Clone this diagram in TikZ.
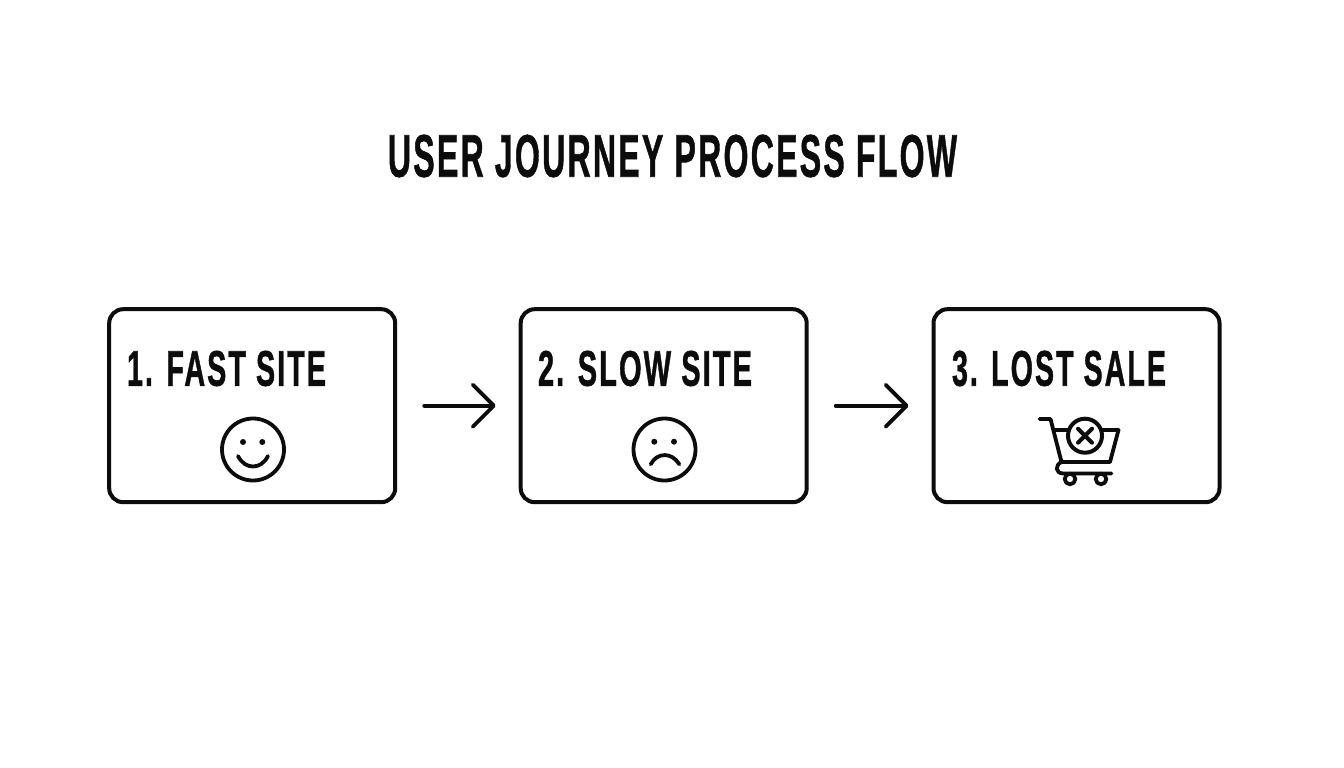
\documentclass[tikz,border=0pt]{standalone}
\usepackage{fontspec}
\usepackage{graphicx}
\setmainfont{Liberation Sans}[BoldFeatures={LetterSpace=7,FakeBold=1.2}]
\usetikzlibrary{arrows.meta}
\definecolor{ink}{HTML}{0C0C0C}
\newcommand{\fittext}[3]{\resizebox{#1pt}{#2pt}{\bfseries #3}}
\tikzset{
  stage/.style={draw=ink,line width=4pt,rounded corners=14pt,minimum width=286pt,minimum height=193pt,inner sep=0pt,fill=white},
  label/.style={inner sep=0pt,text=ink},
  flow/.style={draw=ink,line width=3.8pt,line cap=round,-{Straight Barb[length=21pt,width=42pt,line width=3.8pt,round]}},
  icon/.style={draw=ink,line width=3.8pt,line cap=round,line join=round},
  cart/.style={draw=ink,line width=3.8pt,line cap=round,line join=round}
}
\begin{document}
\begin{tikzpicture}[x=1pt,y=-1pt]
\useasboundingbox (0,0) rectangle (1344,768);
\fill[white] (0,0) rectangle (1344,768);
\node[label] (title) at (672.5,156) {\fittext{569}{42}{USER JOURNEY PROCESS FLOW}};
\node[stage] (b1) at (252.2,405.7) {};
\node[stage] (b2) at (663.7,405.7) {};
\node[stage] (b3) at (1076.5,405.7) {};
\node[label] (t1) at (226.5,368.5) {\fittext{199}{35}{1. FAST SITE}};
\node[label] (t2) at (645,368.5) {\fittext{214}{35}{2. SLOW SITE}};
\node[label] (t3) at (1059,368.5) {\fittext{214}{35}{3. LOST SALE}};
\draw[flow,shorten <=27pt,shorten >=23pt] (b1.east) -- (b2.west);
\draw[flow,shorten <=27pt,shorten >=23pt] (b2.east) -- (b3.west);
% smiley
\draw[icon] (253,449.5) circle (31);
\fill[ink] (243,442) circle (3) (262.3,442) circle (3);
\draw[icon] (238,456) .. controls (245,470) and (261,470) .. (268,456);
% frown
\draw[icon] (664.5,449.5) circle (31);
\fill[ink] (654.3,441.7) circle (3) (674,441.7) circle (3);
\draw[icon] (650.7,464.3) .. controls (657,452) and (672,452) .. (679.3,464.3);
% cart
\draw[cart] (1039.5,419) -- (1050.5,419) -- (1061.5,462) -- (1110,462) -- (1118.5,430) -- (1055,430);
\draw[cart] (1061.5,462) .. controls (1055,465) and (1055,473) .. (1063,473.5) -- (1111.5,473.5);
\draw[cart,fill=white] (1070,479) circle (5.3) (1101,479) circle (5.3);
\draw[cart,line width=4pt,fill=white] (1085,435.7) circle (17);
\draw[cart,line width=4pt] (1078,428.7) -- (1092,442.7) (1092,428.7) -- (1078,442.7);
\end{tikzpicture}
\end{document}
